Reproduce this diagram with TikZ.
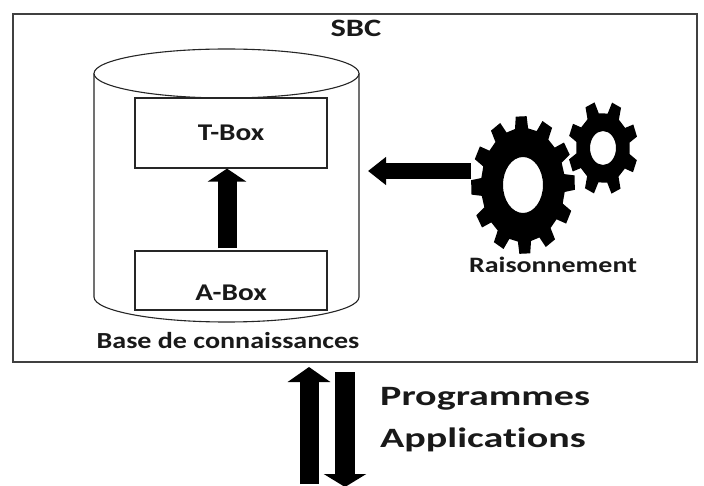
\documentclass[tikz,border=0pt]{standalone}
\usepackage{graphicx}
\usepackage{fontspec}
\setmainfont[Ligatures=NoCommon]{Carlito}
\usetikzlibrary{arrows.meta}
\newcommand{\wlabel}[3]{\scalebox{#1}[1]{\fontsize{#2}{#2}\selectfont\bfseries #3}}
\tikzset{
  frame/.style={draw=black!75,line width=1.3pt,fill=white},
  boxnode/.style={draw=black!85,line width=1.2pt,fill=white,minimum width=192pt,inner sep=0pt},
  txt/.style={inner sep=0pt,text=black!90},
  block/.style={line width=#1,draw=black,line cap=butt},
  block/.default=19pt
}
\begin{document}
\begin{tikzpicture}[x=1pt,y=-1pt]
\useasboundingbox (0,0) rectangle (704,486);
\fill[white] (0,0) rectangle (704,486);
\draw[frame] (13,14) rectangle (697,362);
\node[txt] (sbc) at (356,28) {\wlabel{1.3}{25pt}{SBC}};
% cylinder
\draw[black!85,line width=1.1pt,fill=white] (94,73.5) -- (94,297) arc[start angle=180,end angle=0,x radius=132.5,y radius=25] -- (359,73.5);
\draw[black!85,line width=1.1pt,fill=white] (226.5,73.5) ellipse[x radius=132.5,y radius=24.5];
\node[boxnode,minimum height=70pt] (tbox) at (231,133) {};
\node[boxnode,minimum height=59pt] (abox) at (231,280.5) {};
\node[txt] (tlabel) at (231,133) {\wlabel{1.22}{24pt}{T-Box}};
\node[txt] (alabel) at (231,293) {\wlabel{1.22}{24pt}{A-Box}};
\node[txt] (base) at (228,341) {\wlabel{1.22}{23pt}{Base de connaissances}};
\draw[block=19pt,-{Triangle[length=13pt,width=38pt]}] (abox.north) ++(-4,-2) coordinate (a1) (a1) -- (a1 |- tbox.south);
% gears
\coordinate (gearA) at (523,185);
\coordinate (gearB) at (603,148);
\fill[black,even odd rule,shift={(gearA)}]
  (-92-6:52 and 69)
  \foreach \k in {0,...,11}{
    \pgfextra{\pgfmathsetmacro{\a}{-92+30*\k}}
    -- (\a-6:52 and 69) -- (\a+6:52 and 69) -- (\a+9:42 and 57) -- (\a+21:42 and 57)
  } -- cycle
  (0,0) ellipse[x radius=20,y radius=28];
\fill[black,even odd rule,shift={(gearB)}]
  (-67-8:35 and 47)
  \foreach \k in {0,...,7}{
    \pgfextra{\pgfmathsetmacro{\a}{-67+45*\k}}
    -- (\a-8:35 and 47) -- (\a+8:35 and 47) -- (\a+13:27 and 35) -- (\a+32:27 and 35)
  } -- cycle
  (0,0) ellipse[x radius=13,y radius=17];
\coordinate (gearEdge) at (471,171);
\coordinate (reasonTip) at (368,171);
\draw[block=16pt,-{Triangle[length=18pt,width=27pt]}] (gearEdge) -- (reasonTip);
\node[txt] (rais) at (553,265) {\wlabel{1.27}{22pt}{Raisonnement}};
% bottom arrows
\coordinate (upS) at (309,484);
\coordinate (upE) at (309,367);
\coordinate (dnS) at (345,372);
\coordinate (dnE) at (345,487);
\draw[block=19pt,-{Triangle[length=15pt,width=42pt]}] (upS) -- (upE);
\draw[block=20pt,-{Triangle[length=13pt,width=42pt]}] (dnS) -- (dnE);
\node[txt,anchor=base west] (prog) at (380,405) {\wlabel{1.43}{28pt}{Programmes}};
\node[txt,anchor=base west] (appl) at (380,447) {\wlabel{1.43}{28pt}{Applications}};
\end{tikzpicture}
\end{document}
